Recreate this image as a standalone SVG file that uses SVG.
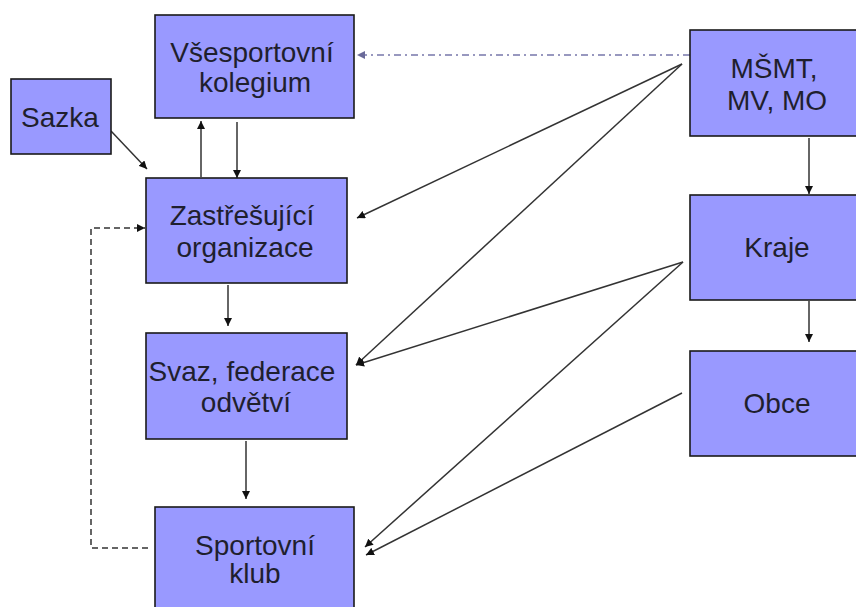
<svg xmlns="http://www.w3.org/2000/svg" width="856" height="607" viewBox="0 0 856 607">
<style>
.box{fill:#9999ff;stroke:#1a1a1a;stroke-width:1.6}
.t{font-family:"Liberation Sans",Arial,sans-serif;font-size:28px;fill:#1f1f2e;text-anchor:middle}
.c{fill:none;stroke:#333;stroke-width:1.5}
.dash{stroke-dasharray:6,4}
.dd{stroke:#7777aa;stroke-width:1.3;stroke-dasharray:7,4,2,4}
</style>
<defs>
<marker id="a" viewBox="0 0 10 10" refX="10" refY="5" markerWidth="8" markerHeight="8" markerUnits="userSpaceOnUse" orient="auto"><path d="M0,0L10,5L0,10z" fill="#111"/></marker>
<marker id="b" viewBox="0 0 10 10" refX="10" refY="5" markerWidth="8" markerHeight="8" markerUnits="userSpaceOnUse" orient="auto"><path d="M0,0L10,5L0,10z" fill="#6a6a99"/></marker>
</defs>
<rect width="856" height="607" fill="#fff"/>
<g id="connectors">
<path class="c dd" d="M690,55H357" marker-end="url(#b)"/>
<path class="c" d="M111,131L147,169" marker-end="url(#a)"/>
<path class="c" d="M201,177V121" marker-end="url(#a)"/>
<path class="c" d="M237,122V178" marker-end="url(#a)"/>
<path class="c" d="M682,64L357,218" marker-end="url(#a)"/>
<path class="c" d="M682,64L356,365" marker-end="url(#a)"/>
<path class="c" d="M683,262L356,365" marker-end="url(#a)"/>
<path class="c" d="M683,262L365,547" marker-end="url(#a)"/>
<path class="c" d="M682,393L366,555" marker-end="url(#a)"/>
<path class="c" d="M228,285V326" marker-end="url(#a)"/>
<path class="c" d="M246,441V499" marker-end="url(#a)"/>
<path class="c" d="M809,138V194" marker-end="url(#a)"/>
<path class="c" d="M809,301V342" marker-end="url(#a)"/>
<path class="c dash" d="M148,548H91V228H145" marker-end="url(#a)"/>
</g>
<g id="vsesportovni">
<rect class="box" x="155" y="15" width="199" height="103"/>
<text class="t" x="252" y="62">Všesportovní</text>
<text class="t" x="255" y="92">kolegium</text>
</g>
<g id="sazka">
<rect class="box" x="11" y="79" width="100" height="75"/>
<text class="t" x="60" y="127">Sazka</text>
</g>
<g id="zastresujici">
<rect class="box" x="146" y="178" width="201" height="105"/>
<text class="t" x="242" y="225">Zastřešující</text>
<text class="t" x="245" y="257">organizace</text>
</g>
<g id="svaz">
<rect class="box" x="146" y="333" width="201" height="106"/>
<text class="t" x="242" y="381">Svaz, federace</text>
<text class="t" x="246" y="412">odvětví</text>
</g>
<g id="klub">
<rect class="box" x="155" y="507" width="199" height="106"/>
<text class="t" x="255" y="555">Sportovní</text>
<text class="t" x="255" y="583">klub</text>
</g>
<g id="msmt">
<rect class="box" x="690" y="30" width="175" height="106"/>
<text class="t" x="774" y="78">MŠMT,</text>
<text class="t" x="777" y="110">MV, MO</text>
</g>
<g id="kraje">
<rect class="box" x="690" y="195" width="175" height="105"/>
<text class="t" x="777" y="257">Kraje</text>
</g>
<g id="obce">
<rect class="box" x="690" y="351" width="175" height="105"/>
<text class="t" x="777" y="413">Obce</text>
</g>
</svg>
